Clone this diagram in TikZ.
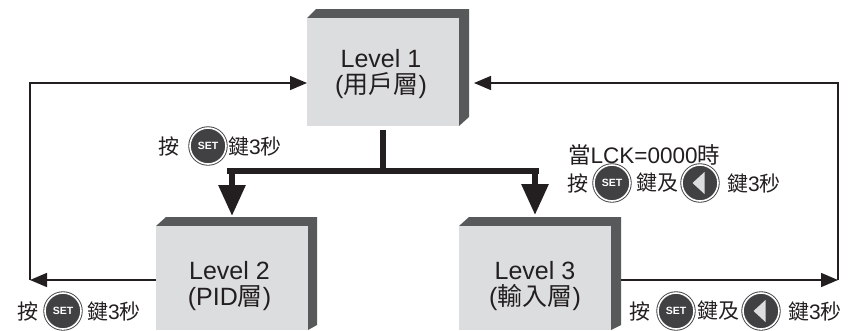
\documentclass[tikz,border=0pt]{standalone}
\usepackage{fontspec}
\setmainfont{Liberation Sans}
\newfontfamily\cjk{Noto Sans CJK TC}
\usetikzlibrary{arrows.meta}
\definecolor{boxfill}{HTML}{DCDDDE}
\definecolor{boxdark}{HTML}{58595B}
\definecolor{ink}{HTML}{231F20}
\definecolor{btn}{HTML}{414042}
\newcommand{\cj}[1]{{\cjk #1}}
\tikzset{
  levelbox/.style={fill=boxfill,inner sep=0pt,outer sep=0pt,anchor=north west},
  side/.style={fill=boxdark},
  leveltext/.style={align=center,text=ink,inner sep=0pt,font=\fontsize{25}{26}\selectfont},
  lbl/.style={text=ink,inner sep=0pt,font=\fontsize{21}{22}\selectfont},
  thinline/.style={draw=ink,line width=1.5pt},
  thinarrow/.style={thinline,-{Triangle[length=17pt,width=14pt]}},
  fatline/.style={draw=ink,line width=6pt},
  fatarrow/.style={fatline,-{Triangle[length=31pt,width=26pt]}},
  btnbase/.style={circle,draw=btn,fill=btn,line width=.9pt,double=white,double distance=1.6pt,inner sep=0pt,minimum size=36pt},
  setbtn/.style={btnbase,text=white,font=\fontsize{10.5}{10.5}\bfseries\selectfont},
  leftbtn/.style={btnbase,path picture={\fill[boxfill] ([xshift=-7.5pt]path picture bounding box.center) -- ++(12pt,-11pt) -- ++(0,22pt) -- cycle;}}
}
\begin{document}
\begin{tikzpicture}[x=1pt,y=-1pt]
\useasboundingbox (0,0) rectangle (854,330);
\clip (0,0) rectangle (854,330);
% raised edges of the three boxes
\fill[side] (307,18) -- (316,9) -- (469,9) -- (469,117) -- (459,126) -- cycle;
\fill[side] (156,226) -- (166,217) -- (317,217) -- (317,325) -- (308,330) -- cycle;
\fill[side] (459,226) -- (469,217) -- (621,217) -- (621,325) -- (611,330) -- cycle;
% boxes
\node[levelbox,minimum width=152pt,minimum height=108pt] (L1) at (307,18) {};
\node[levelbox,minimum width=152pt,minimum height=104pt] (L2) at (156,226) {};
\node[levelbox,minimum width=152pt,minimum height=104pt] (L3) at (459,226) {};
\node[leveltext] (T1) at (381,74) {Level 1\\(\cj{用戶層})};
\node[leveltext] (T2) at (229.5,286.5) {Level 2\\(PID\cj{層})};
\node[leveltext] (T3) at (535,286.5) {Level 3\\(\cj{輸入層})};
% connector points
\coordinate (L1inL) at (307,83);
\coordinate (L1inR) at (474,83);
\coordinate (L2out) at (156,280);
\coordinate (L3out) at (621,280);
\coordinate (cornerL) at (30,280);
\coordinate (cornerR) at (838,280);
\coordinate (stemTop) at (383,130);
\coordinate (stemBot) at (383,171);
\coordinate (barL) at (227,171);
\coordinate (barR) at (539,171);
\coordinate (dropL) at (232,171);
\coordinate (dropR) at (535,171);
\coordinate (tipL) at (232,216);
\coordinate (tipR) at (535,215);
% thin connectors
\draw[thinarrow] (cornerL) |- (L1inL);
\draw[thinarrow] (cornerR) |- (L1inR);
\draw[thinarrow] (L2out) -- (cornerL);
\draw[thinarrow] (L3out) -- (cornerR);
% thick connectors
\draw[fatline] (stemTop) -- (stemBot);
\draw[fatline] (barL) -- (barR);
\draw[fatarrow] (dropL) -- (tipL);
\draw[fatarrow] (dropR) -- (tipR);
% label: top left
\node[lbl] (a1) at (169,146) {\cj{按}};
\node[setbtn] (a2) at (208,146) {SET};
\node[lbl,anchor=west] (a3) at (228,146) {\cj{鍵}3\cj{秒}};
% label: top right
\node[lbl,anchor=west,font=\fontsize{22.5}{23}\selectfont] (b0) at (568,155) {\cj{當}LCK=0000\cj{時}};
\node[lbl] (b1) at (578,183) {\cj{按}};
\node[setbtn] (b2) at (612,183) {SET};
\node[lbl] (b3) at (657,183) {\cj{鍵及}};
\node[leftbtn] (b4) at (700,183) {};
\node[lbl,anchor=west] (b5) at (727,183) {\cj{鍵}3\cj{秒}};
% label: bottom left
\node[lbl] (c1) at (28,311) {\cj{按}};
\node[setbtn] (c2) at (63,311) {SET};
\node[lbl,anchor=west] (c3) at (87,311) {\cj{鍵}3\cj{秒}};
% label: bottom right
\node[lbl] (d1) at (640,311) {\cj{按}};
\node[setbtn] (d2) at (676,311) {SET};
\node[lbl] (d3) at (718,311) {\cj{鍵及}};
\node[leftbtn] (d4) at (761,311) {};
\node[lbl,anchor=west] (d5) at (788,311) {\cj{鍵}3\cj{秒}};
\end{tikzpicture}
\end{document}
